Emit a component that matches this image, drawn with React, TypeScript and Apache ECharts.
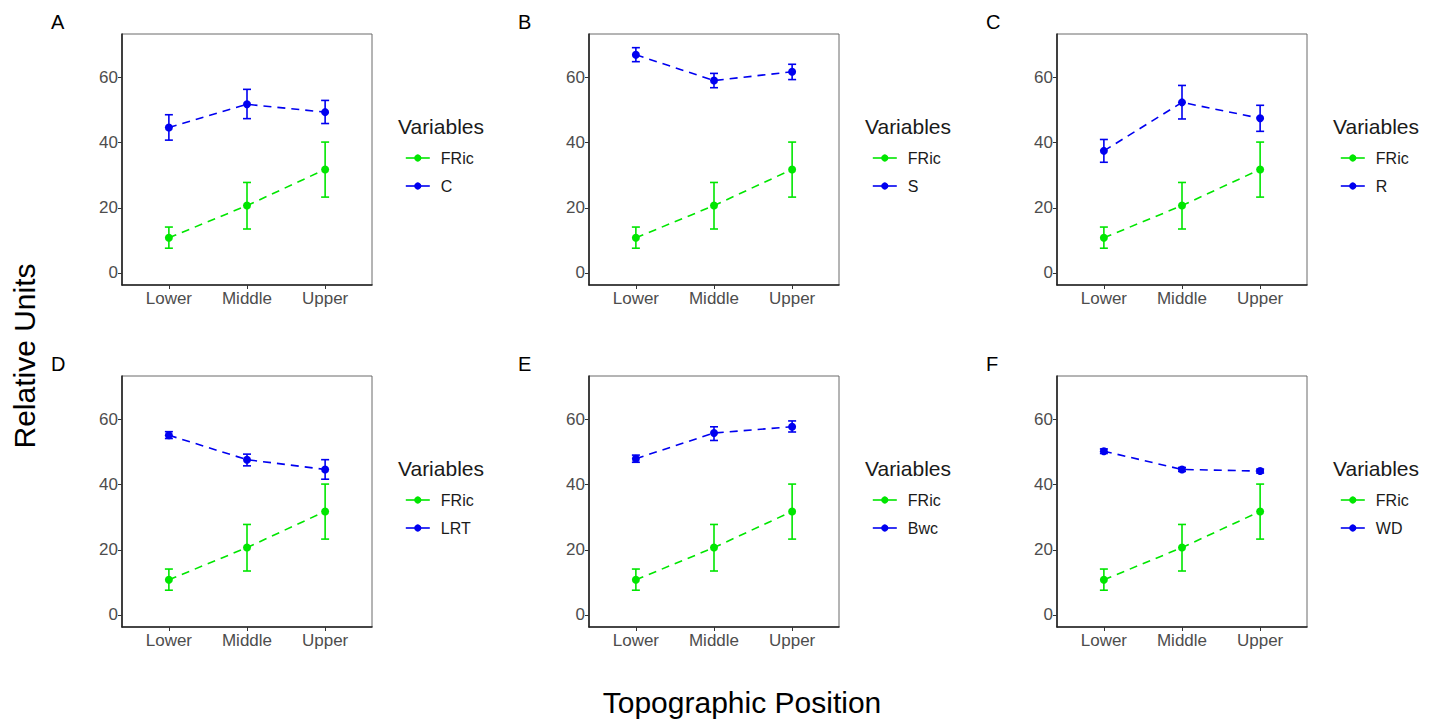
import React, { useEffect, useRef } from "react";
import * as echarts from "echarts";

const positions = ["Lower", "Middle", "Upper"];
const yTicks = [0, 20, 40, 60];

const fricMean = [10.8, 20.7, 31.8];
const fricLow = [7.6, 13.5, 23.3];
const fricHigh = [14.1, 27.8, 40.2];

const panelLetters = ["A", "B", "C", "D", "E", "F"];
const varNames = ["C", "S", "R", "LRT", "Bwc", "WD"];

const cMean = [44.7, 51.8, 49.4];
const cLow = [40.8, 47.4, 45.9];
const cHigh = [48.6, 56.4, 53.0];

const sMean = [67.0, 59.1, 61.8];
const sLow = [64.9, 56.9, 59.4];
const sHigh = [69.2, 61.3, 64.1];

const rMean = [37.5, 52.4, 47.5];
const rLow = [34.0, 47.3, 43.5];
const rHigh = [41.0, 57.6, 51.5];

const lrtMean = [55.2, 47.7, 44.7];
const lrtLow = [54.2, 45.8, 41.7];
const lrtHigh = [56.3, 49.4, 47.7];

const bwcMean = [48.0, 55.9, 57.8];
const bwcLow = [46.9, 53.6, 56.2];
const bwcHigh = [49.1, 57.8, 59.6];

const wdMean = [50.3, 44.7, 44.2];
const wdLow = [49.6, 44.1, 43.6];
const wdHigh = [51.0, 45.3, 44.8];

const varMeans = [cMean, sMean, rMean, lrtMean, bwcMean, wdMean];
const varLows = [cLow, sLow, rLow, lrtLow, bwcLow, wdLow];
const varHighs = [cHigh, sHigh, rHigh, lrtHigh, bwcHigh, wdHigh];

const GREEN = "#00e600";
const BLUE = "#0000f0";
const FONT = "Liberation Sans, Arial, sans-serif";

const gridLefts = [122, 589, 1057];
const gridTops = [34, 376];
const GW = 250;
const GH = 251;

function errRender(color: string) {
  return (params: any, api: any) => {
    const x = api.value(0);
    const lo = api.coord([x, api.value(1)]);
    const hi = api.coord([x, api.value(2)]);
    const hw = 4;
    const style = { stroke: color, lineWidth: 1.6 };
    return {
      type: "group",
      children: [
        { type: "line", shape: { x1: lo[0], y1: lo[1], x2: hi[0], y2: hi[1] }, style },
        { type: "line", shape: { x1: lo[0] - hw, y1: lo[1], x2: lo[0] + hw, y2: lo[1] }, style },
        { type: "line", shape: { x1: hi[0] - hw, y1: hi[1], x2: hi[0] + hw, y2: hi[1] }, style },
      ],
    };
  };
}

export default function App() {
  const ref = useRef<HTMLDivElement>(null);
  useEffect(() => {
    if (!ref.current) return;
    const chart = echarts.init(ref.current, null, { renderer: "svg" });
    const grids: any[] = [];
    const xAxes: any[] = [];
    const yAxes: any[] = [];
    const series: any[] = [];
    const legends: any[] = [];
    const graphics: any[] = [];

    for (let p = 0; p < 6; p++) {
      const row = Math.floor(p / 3);
      const col = p % 3;
      const left = gridLefts[col];
      const top = gridTops[row];
      grids.push({
        left,
        top,
        width: GW,
        height: GH,
        show: true,
        borderColor: "#6a6a6a",
        borderWidth: 1,
        backgroundColor: "#ffffff",
      });
      xAxes.push({
        type: "value",
        gridIndex: p,
        min: -0.6,
        max: 2.6,
        axisLine: { show: true, onZero: false, lineStyle: { color: "#222", width: 1.6 } },
        axisTick: { show: true, length: 4, customValues: [0, 1, 2], lineStyle: { color: "#333", width: 1 } },
        axisLabel: {
          show: true,
          customValues: [0, 1, 2],
          formatter: (v: number) => positions[Math.round(v)] ?? "",
          color: "#4d4d4d",
          fontSize: 17,
          fontFamily: FONT,
          margin: 5,
        },
        splitLine: { show: false },
      });
      yAxes.push({
        type: "value",
        gridIndex: p,
        min: -3.7,
        max: 73.4,
        axisLine: { show: true, onZero: false, lineStyle: { color: "#222", width: 1.6 } },
        axisTick: { show: true, length: 4, customValues: yTicks, lineStyle: { color: "#333", width: 1 } },
        axisLabel: {
          show: true,
          customValues: yTicks,
          color: "#4d4d4d",
          fontSize: 17,
          fontFamily: FONT,
          margin: 4,
        },
        splitLine: { show: false },
      });

      const name = varNames[p];
      const m = varMeans[p];
      const lo = varLows[p];
      const hi = varHighs[p];

      series.push({
        type: "custom",
        name: "FRic-err-" + p,
        xAxisIndex: p,
        yAxisIndex: p,
        renderItem: errRender(GREEN),
        data: positions.map((_, i) => [i, fricLow[i], fricHigh[i]]),
        encode: { x: 0, y: [1, 2] },
        silent: true,
        z: 3,
      });
      series.push({
        type: "custom",
        name: name + "-err-" + p,
        xAxisIndex: p,
        yAxisIndex: p,
        renderItem: errRender(BLUE),
        data: positions.map((_, i) => [i, lo[i], hi[i]]),
        encode: { x: 0, y: [1, 2] },
        silent: true,
        z: 3,
      });
      series.push({
        type: "line",
        name: "FRic",
        xAxisIndex: p,
        yAxisIndex: p,
        data: positions.map((_, i) => [i, fricMean[i]]),
        symbol: "circle",
        symbolSize: 8,
        itemStyle: { color: GREEN },
        lineStyle: { color: GREEN, width: 1.6, type: [8, 6] },
        z: 4,
      });
      series.push({
        type: "line",
        name,
        xAxisIndex: p,
        yAxisIndex: p,
        data: positions.map((_, i) => [i, m[i]]),
        symbol: "circle",
        symbolSize: 8,
        itemStyle: { color: BLUE },
        lineStyle: { color: BLUE, width: 1.6, type: [8, 6] },
        z: 4,
      });

      legends.push({
        data: ["FRic", name],
        orient: "vertical",
        left: left + GW + 28,
        top: top + 111,
        itemWidth: 24,
        itemHeight: 9,
        itemGap: 12,
        selectedMode: false,
        lineStyle: { type: "solid", width: 1.6 },
        textStyle: { fontSize: 16, color: "#1a1a1a", fontFamily: FONT, padding: [0, 0, 0, 6] },
      });

      graphics.push({
        type: "text",
        left: left + GW + 26,
        top: top + 82,
        style: { text: "Variables", fontSize: 21, fill: "#1a1a1a", fontFamily: FONT },
      });
      graphics.push({
        type: "text",
        left: left - 71,
        top: top - 22,
        style: { text: panelLetters[p], fontSize: 20, fill: "#000", fontFamily: FONT },
      });
    }

    graphics.push({
      type: "text",
      x: 24,
      y: 356,
      rotation: Math.PI / 2,
      style: {
        text: "Relative Units",
        fontSize: 30,
        fill: "#000",
        fontFamily: FONT,
        align: "center",
        verticalAlign: "middle",
      },
    });
    graphics.push({
      type: "text",
      x: 742,
      y: 702,
      style: {
        text: "Topographic Position",
        fontSize: 30,
        fill: "#000",
        fontFamily: FONT,
        align: "center",
        verticalAlign: "middle",
      },
    });

    chart.setOption({
      animation: false,
      backgroundColor: "#ffffff",
      grid: grids,
      xAxis: xAxes,
      yAxis: yAxes,
      legend: legends,
      series,
      graphic: graphics,
    });
    return () => chart.dispose();
  }, []);

  return (
    <div
      ref={ref}
      style={{ position: "absolute", left: 0, top: 0, width: 1446, height: 722 }}
    />
  );
}
